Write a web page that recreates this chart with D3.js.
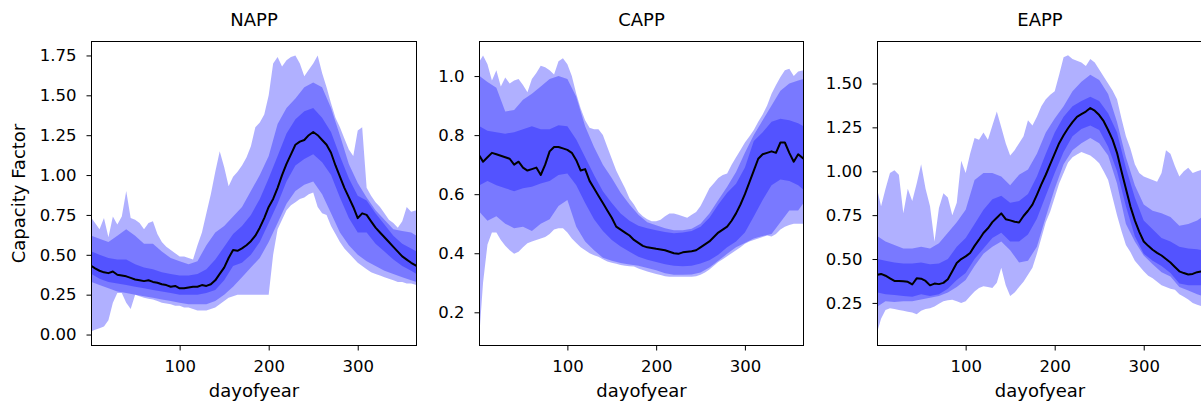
<!DOCTYPE html>
<html>
<head>
<meta charset="utf-8">
<script src="https://cdn.jsdelivr.net/npm/d3@7"></script>
<style>
  html, body { margin: 0; padding: 0; background: #fff; }
  svg { display: block; }
  text { font-family: "DejaVu Sans", sans-serif; fill: #000; }
</style>
</head>
<body>
<svg id="chart" width="1201" height="406"></svg>
<script>
// ---------- DATA ----------
const days5 = [1,5,10,15,20,25,30,35,40,45,50,55,60,65,70,75,80,85,90,95,100,105,110,115,120,125,130,135,140,145,150,155,160,165,170,175,180,185,190,195,200,205,210,215,220,225,230,235,240,245,250,255,260,265,270,275,280,285,290,295,300,305,310,315,320,325,330,335,340,345,350,355,360,366];
const days10 = [1,10,20,30,40,50,60,70,80,90,100,110,120,130,140,150,160,170,180,190,200,210,220,230,240,250,260,270,280,290,300,310,320,330,340,350,360,366];

const titles = ["NAPP", "CAPP", "EAPP"];
const xTicks = [100, 200, 300];
const yTicksNAPP = [0, 0.25, 0.5, 0.75, 1.0, 1.25, 1.5, 1.75];
const yTicksCAPP = [0.2, 0.4, 0.6, 0.8, 1.0];
const yTicksEAPP = [0.25, 0.5, 0.75, 1.0, 1.25, 1.5];

// NAPP  (outer band + median on days5, middle/inner bands on days10)
const nappOuterHi = [0.73,0.70,0.66,0.73,0.61,0.74,0.69,0.74,0.90,0.73, 0.72,0.70,0.66,0.70,0.71,0.63,0.58,0.55,0.53,0.51, 0.49,0.49,0.48,0.47,0.56,0.64,0.76,0.88,1.02,1.15, 1.05,0.93,0.99,1.02,1.06,1.11,1.18,1.30,1.33,1.38, 1.50,1.70,1.74,1.68,1.72,1.74,1.75,1.70,1.62,1.66, 1.70,1.75,1.64,1.55,1.45,1.36,1.30,1.23,1.16,1.12, 1.28,1.30,0.92,0.87,0.83,0.80,0.76,0.72,0.70,0.67, 0.71,0.80,0.77,0.78];
const nappOuterLo = [0.02,0.03,0.04,0.05,0.09,0.20,0.26,0.26,0.20,0.16, 0.25,0.24,0.23,0.225,0.22,0.21,0.20,0.195,0.19,0.18, 0.18,0.17,0.17,0.16,0.15,0.15,0.15,0.16,0.17,0.19, 0.21,0.23,0.24,0.25,0.25,0.25,0.25,0.25,0.25,0.25, 0.25,0.50,0.66,0.72,0.78,0.81,0.83,0.85,0.86,0.88, 0.89,0.80,0.76,0.75,0.68,0.63,0.58,0.54,0.51,0.48, 0.45,0.43,0.41,0.39,0.38,0.37,0.36,0.35,0.34,0.33, 0.33,0.32,0.32,0.31];
const nappMidHi = [0.62,0.60,0.58,0.62,0.66,0.62,0.57,0.57,0.52,0.48, 0.46,0.44,0.46,0.56,0.64,0.68,0.74,0.80,0.90,1.00, 1.12,1.32,1.42,1.48,1.55,1.58,1.55,1.42,1.25,1.07, 0.95,0.86,0.78,0.72,0.66,0.65,0.64,0.62];
const nappMidLo = [0.33,0.31,0.29,0.27,0.26,0.25,0.24,0.23,0.22,0.21, 0.20,0.19,0.19,0.19,0.21,0.25,0.30,0.36,0.42,0.48, 0.58,0.70,0.82,0.90,0.94,0.96,0.88,0.76,0.64,0.56, 0.50,0.46,0.43,0.40,0.38,0.36,0.34,0.33];
const nappInnerHi = [0.52,0.50,0.48,0.47,0.47,0.44,0.42,0.41,0.39,0.38, 0.37,0.37,0.38,0.41,0.47,0.55,0.63,0.68,0.75,0.85, 0.98,1.12,1.26,1.35,1.40,1.42,1.36,1.27,1.12,0.98, 0.87,0.84,0.76,0.69,0.62,0.57,0.54,0.52];
const nappInnerLo = [0.38,0.35,0.33,0.32,0.31,0.30,0.29,0.28,0.27,0.26, 0.25,0.25,0.25,0.26,0.28,0.34,0.43,0.45,0.50,0.58, 0.70,0.82,0.96,1.06,1.10,1.13,1.08,1.00,0.86,0.73, 0.64,0.64,0.57,0.52,0.47,0.43,0.40,0.38];
const nappMedian = [0.43,0.415,0.40,0.39,0.385,0.395,0.375,0.37,0.365,0.355, 0.345,0.34,0.335,0.34,0.33,0.325,0.315,0.31,0.30,0.305, 0.29,0.29,0.295,0.30,0.30,0.31,0.305,0.315,0.34,0.38, 0.42,0.48,0.53,0.525,0.54,0.56,0.585,0.62,0.67,0.73, 0.80,0.85,0.92,1.0,1.07,1.13,1.19,1.21,1.22,1.25, 1.27,1.25,1.22,1.19,1.14,1.06,0.99,0.92,0.86,0.80, 0.73,0.76,0.75,0.71,0.67,0.64,0.61,0.58,0.55,0.52, 0.49,0.47,0.45,0.43];

// CAPP
const cappOuterHi = [1.05,1.07,1.04,0.985,1.02,0.965,0.995,0.975,0.985,0.99, 0.97,0.945,0.99,1.01,1.035,1.03,1.02,1.005,1.05,1.06, 1.04,1.0,0.94,0.89,0.85,0.825,0.82,0.82,0.80,0.76, 0.72,0.68,0.65,0.62,0.585,0.565,0.54,0.525,0.515,0.508, 0.508,0.513,0.525,0.535,0.535,0.53,0.525,0.52,0.53,0.54, 0.56,0.59,0.62,0.637,0.655,0.665,0.67,0.70,0.725,0.75, 0.775,0.795,0.817,0.845,0.87,0.90,0.94,0.97,0.997,1.02, 1.025,1.0,1.015,1.02];
const cappOuterLo = [0.13,0.30,0.43,0.47,0.47,0.445,0.425,0.41,0.398,0.405, 0.42,0.434,0.44,0.445,0.45,0.455,0.465,0.48,0.485,0.485, 0.47,0.45,0.435,0.42,0.41,0.40,0.393,0.388,0.38,0.372, 0.368,0.364,0.36,0.358,0.356,0.355,0.348,0.343,0.338,0.334, 0.33,0.326,0.322,0.32,0.32,0.32,0.32,0.32,0.32,0.322, 0.327,0.335,0.345,0.358,0.37,0.38,0.39,0.40,0.41,0.42, 0.432,0.44,0.445,0.45,0.455,0.46,0.457,0.465,0.48,0.49, 0.496,0.50,0.50,0.50];
const cappMidHi = [1.0,0.98,0.96,0.88,0.885,0.92,0.94,0.965,0.99,1.0, 0.99,0.93,0.83,0.76,0.70,0.655,0.605,0.565,0.53,0.505, 0.495,0.485,0.478,0.478,0.483,0.50,0.535,0.58,0.625,0.675, 0.74,0.80,0.85,0.90,0.95,0.975,0.985,0.99];
const cappMidLo = [0.54,0.51,0.525,0.50,0.485,0.49,0.475,0.50,0.515,0.56, 0.58,0.49,0.44,0.41,0.385,0.375,0.367,0.362,0.358,0.35, 0.342,0.332,0.327,0.327,0.328,0.335,0.352,0.375,0.398,0.42, 0.435,0.45,0.458,0.465,0.505,0.545,0.545,0.57];
const cappInnerHi = [0.83,0.815,0.81,0.805,0.81,0.82,0.83,0.82,0.82,0.833, 0.83,0.785,0.725,0.665,0.61,0.57,0.535,0.51,0.493,0.485, 0.478,0.472,0.468,0.47,0.475,0.49,0.52,0.565,0.605,0.635, 0.69,0.78,0.81,0.845,0.855,0.85,0.84,0.83];
const cappInnerLo = [0.63,0.645,0.63,0.62,0.61,0.62,0.625,0.636,0.645,0.665, 0.67,0.63,0.57,0.515,0.475,0.445,0.423,0.405,0.388,0.378, 0.37,0.363,0.358,0.356,0.358,0.365,0.376,0.395,0.42,0.44, 0.47,0.524,0.58,0.63,0.65,0.645,0.63,0.615];
const cappMedian = [0.73,0.71,0.725,0.74,0.735,0.73,0.725,0.72,0.70,0.71, 0.69,0.68,0.685,0.69,0.665,0.70,0.745,0.76,0.76,0.755, 0.75,0.74,0.715,0.68,0.685,0.645,0.62,0.595,0.57,0.545, 0.52,0.49,0.48,0.47,0.46,0.445,0.435,0.425,0.42,0.418, 0.415,0.413,0.41,0.405,0.40,0.398,0.403,0.405,0.407,0.41, 0.42,0.43,0.44,0.455,0.47,0.48,0.49,0.51,0.535,0.565, 0.60,0.64,0.68,0.72,0.735,0.74,0.745,0.74,0.775,0.775, 0.74,0.71,0.735,0.72];

// EAPP
const eappOuterHi = [0.89,0.80,0.90,0.99,1.005,0.98,0.76,0.90,0.83,0.93, 1.04,0.90,0.80,0.60,0.79,0.875,0.85,0.75,0.82,1.06, 0.99,1.10,1.19,1.18,1.22,1.18,1.26,1.34,1.25,1.16, 1.09,1.12,1.16,1.20,1.29,1.26,1.31,1.37,1.41,1.435, 1.455,1.55,1.65,1.66,1.64,1.63,1.62,1.60,1.64,1.62, 1.58,1.54,1.50,1.46,1.41,1.30,1.20,1.13,1.04,0.99, 0.97,0.96,0.95,0.94,0.99,1.12,1.10,1.03,0.97,1.00, 1.02,0.99,1.00,1.01];
const eappOuterLo = [0.09,0.16,0.21,0.22,0.215,0.21,0.205,0.20,0.195,0.185, 0.205,0.215,0.22,0.23,0.245,0.26,0.265,0.268,0.26,0.25, 0.26,0.288,0.315,0.335,0.345,0.34,0.335,0.365,0.45,0.35, 0.29,0.31,0.34,0.37,0.41,0.45,0.53,0.62,0.71,0.77, 0.85,0.93,0.99,1.05,1.08,1.095,1.11,1.10,1.09,1.07, 1.045,1.00,0.95,0.85,0.75,0.66,0.58,0.54,0.49,0.46, 0.43,0.405,0.39,0.37,0.35,0.34,0.33,0.325,0.30,0.285, 0.27,0.25,0.24,0.23];
const eappMidHi = [0.63,0.60,0.58,0.56,0.56,0.57,0.56,0.59,0.65,0.71, 0.78,0.95,0.99,0.99,0.97,0.92,0.98,1.01,1.10,1.22, 1.30,1.37,1.455,1.51,1.55,1.52,1.44,1.28,1.08,0.92, 0.81,0.775,0.76,0.74,0.69,0.70,0.72,0.74];
const eappMidLo = [0.23,0.26,0.255,0.26,0.26,0.27,0.28,0.29,0.31,0.34, 0.38,0.46,0.53,0.57,0.60,0.55,0.48,0.49,0.57,0.74, 0.90,1.04,1.12,1.16,1.19,1.16,1.09,0.93,0.70,0.60, 0.52,0.47,0.425,0.40,0.34,0.32,0.30,0.29];
const eappInnerHi = [0.50,0.49,0.48,0.475,0.475,0.48,0.47,0.475,0.50,0.57, 0.62,0.70,0.78,0.84,0.86,0.82,0.83,0.87,0.97,1.10, 1.22,1.31,1.37,1.40,1.425,1.40,1.33,1.22,1.02,0.85, 0.72,0.67,0.62,0.60,0.57,0.56,0.555,0.55];
const eappInnerLo = [0.31,0.30,0.295,0.29,0.285,0.30,0.29,0.30,0.33,0.38, 0.42,0.50,0.56,0.62,0.65,0.60,0.60,0.64,0.73,0.86, 0.99,1.11,1.20,1.24,1.26,1.235,1.14,1.00,0.80,0.63, 0.53,0.49,0.46,0.42,0.36,0.35,0.35,0.35];
const eappMedian = [0.41,0.415,0.405,0.39,0.375,0.375,0.373,0.37,0.355,0.39, 0.388,0.375,0.35,0.36,0.357,0.364,0.385,0.43,0.477,0.50, 0.515,0.534,0.575,0.61,0.648,0.675,0.71,0.735,0.76,0.727, 0.72,0.712,0.708,0.745,0.775,0.81,0.865,0.925,0.98,1.04, 1.10,1.16,1.205,1.245,1.28,1.31,1.325,1.34,1.36,1.345, 1.32,1.285,1.235,1.18,1.105,1.0,0.90,0.80,0.72,0.655, 0.60,0.575,0.553,0.535,0.52,0.50,0.48,0.455,0.43,0.42, 0.412,0.415,0.425,0.43];

// ---------- LAYOUT ----------
const panels = [
  { title: titles[0], x0: 91.5, x1: 416.5, ydom: [-0.06875, 1.8375], yticks: yTicksNAPP, fmt: ".2f", ylabel: true,
    outer: [nappOuterLo, nappOuterHi], bands: [[nappMidLo, nappMidHi], [nappInnerLo, nappInnerHi]], median: nappMedian },
  { title: titles[1], x0: 479.5, x1: 803.5, ydom: [0.0876, 1.117], yticks: yTicksCAPP, fmt: ".1f", ylabel: false,
    outer: [cappOuterLo, cappOuterHi], bands: [[cappMidLo, cappMidHi], [cappInnerLo, cappInnerHi]], median: cappMedian },
  { title: titles[2], x0: 877.5, x1: 1202.5, ydom: [0.0074, 1.739], yticks: yTicksEAPP, fmt: ".2f", ylabel: false,
    outer: [eappOuterLo, eappOuterHi], bands: [[eappMidLo, eappMidHi], [eappInnerLo, eappInnerHi]], median: eappMedian }
];
const plotTop = 41.5, plotBottom = 345.5;
const ALPHA = 0.31;

const svg = d3.select("#chart");

panels.forEach((p, i) => {
  const x = d3.scaleLinear().domain([1, 366]).range([p.x0, p.x1]);
  const y = d3.scaleLinear().domain(p.ydom).range([plotBottom, plotTop]);
  const g = svg.append("g");

  const clipId = "clip" + i;
  svg.append("defs").append("clipPath").attr("id", clipId)
    .append("rect").attr("x", p.x0).attr("y", plotTop).attr("width", p.x1 - p.x0).attr("height", plotBottom - plotTop);

  const plot = g.append("g").attr("clip-path", `url(#${clipId})`);

  const area = d3.area().x(d => x(d[0])).y0(d => y(d[1])).y1(d => y(d[2]));

  const outerData = days5.map((d, k) => [d, p.outer[0][k], p.outer[1][k]]);
  plot.append("path").datum(outerData).attr("d", area)
    .attr("fill", "blue").attr("fill-opacity", ALPHA);

  p.bands.forEach(b => {
    const data = days10.map((d, k) => [d, b[0][k], b[1][k]]);
    plot.append("path").datum(data).attr("d", area)
      .attr("fill", "blue").attr("fill-opacity", ALPHA);
  });

  const line = d3.line().x(d => x(d[0])).y(d => y(d[1]));
  plot.append("path").datum(days5.map((d, k) => [d, p.median[k]])).attr("d", line)
    .attr("fill", "none").attr("stroke", "#000").attr("stroke-width", 2).attr("stroke-linejoin", "round");

  // axes
  const xAxis = d3.axisBottom(x).tickValues(xTicks).tickSize(5).tickPadding(10).tickFormat(d3.format("d"));
  const gx = g.append("g").attr("transform", `translate(0,${plotBottom})`).call(xAxis);
  const yAxis = d3.axisLeft(y).tickValues(p.yticks).tickSize(5).tickPadding(10).tickFormat(d3.format(p.fmt));
  const gy = g.append("g").attr("transform", `translate(${p.x0},0)`).call(yAxis);
  [gx, gy].forEach(a => {
    a.select(".domain").remove();
    a.selectAll(".tick line").attr("stroke", "#000").attr("stroke-width", 1);
    a.selectAll(".tick text").attr("font-size", 16.5).attr("font-family", "DejaVu Sans").attr("fill", "#000");
  });

  // spines
  g.append("rect").attr("x", p.x0).attr("y", plotTop).attr("width", p.x1 - p.x0).attr("height", plotBottom - plotTop)
    .attr("fill", "none").attr("stroke", "#000").attr("stroke-width", 1);

  // title
  g.append("text").attr("x", (p.x0 + p.x1) / 2).attr("y", 26).attr("text-anchor", "middle")
    .attr("font-size", 18).text(p.title);

  // x label
  g.append("text").attr("x", (p.x0 + p.x1) / 2).attr("y", 397).attr("text-anchor", "middle")
    .attr("font-size", 18).text("dayofyear");

  if (p.ylabel) {
    g.append("text").attr("transform", `translate(25,${(plotTop + plotBottom) / 2}) rotate(-90)`)
      .attr("text-anchor", "middle").attr("font-size", 18).text("Capacity Factor");
  }
});
</script>
</body>
</html>
